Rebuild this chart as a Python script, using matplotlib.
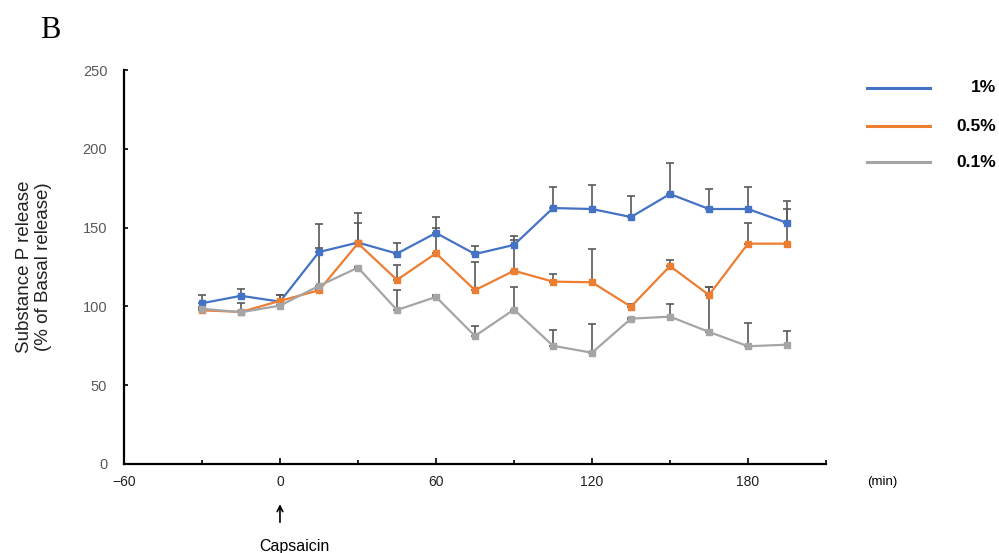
import numpy as np
import matplotlib
matplotlib.use("Agg")
import matplotlib.pyplot as plt
from matplotlib.lines import Line2D

# time points (min) and mean values (% of basal release)
minutes = [-30, -15, 0, 15, 30, 45, 60, 75, 90, 105, 120, 135, 150, 165, 180, 195]

conc_1 = [102, 106.7, 103, 134.5, 140.5, 133.5, 146.6, 133.2, 139, 162.4, 161.8, 156.7, 171.3, 161.8, 161.8, 153]
conc_1_top = [107.2, 110.8, 107.2, 137, 159, 140.4, 150, 138.3, 142, 176, 177, 170, 191, 174.5, 176, 167]

conc_05 = [97.5, 96.5, 103.5, 110.2, 140, 116.8, 133.7, 110.3, 122.6, 115.7, 115.3, 99.8, 125.6, 107.2, 139.8, 139.8]
conc_05_top = [98, 97, 107, 111, 153, 126.3, 157, 128.4, 144.7, 120.6, 136.6, 101.5, 129.4, 112, 152.7, 161.6]

conc_01 = [98.5, 96.3, 100.5, 113, 124.6, 97.7, 106, 81.2, 98, 75, 70.6, 92.2, 93.5, 83.8, 74.7, 75.7]
conc_01_top = [99.5, 102, 101, 152.3, 125, 110.4, 107, 87.6, 112.5, 85, 88.8, 92.5, 101.5, 112.5, 89.5, 84.4]

labels = ["1%", "0.5%", "0.1%"]
colors = ["#4472C4", "#ED7D31", "#A5A5A5"]

series = [(conc_1, conc_1_top), (conc_05, conc_05_top), (conc_01, conc_01_top)]

fig = plt.figure(figsize=(9.99, 5.53), dpi=100)
ax = fig.add_axes([0.1241, 0.161, 0.7027, 0.7124])

# error bars first (only upward), then the lines on top
for vals, top in series:
    v = np.array(vals)
    err = np.array(top) - v
    ax.errorbar(minutes, v, yerr=[np.zeros_like(err), err], fmt="none",
                ecolor="#595959", elinewidth=1.2, capsize=3, capthick=1.2, zorder=2)

for (vals, top), c in zip(series, colors):
    ax.plot(minutes, vals, color=c, lw=1.6, marker="s", markersize=4.5, zorder=3)

ax.set_xlim(-60, 210)
ax.set_ylim(0, 250)
ax.set_xticks([-60, 0, 60, 120, 180])
ax.set_xticklabels(["\u221260", "0", "60", "120", "180"])
ax.set_xticks(np.arange(-30, 211, 60), minor=True)
ax.set_yticks([0, 50, 100, 150, 200, 250])

for s in ["top", "right"]:
    ax.spines[s].set_visible(False)
for s in ["left", "bottom"]:
    ax.spines[s].set_linewidth(1.6)
    ax.spines[s].set_color("black")

ax.tick_params(axis="x", which="major", direction="in", length=4, width=1.2,
               labelsize=10, labelcolor="#222222", pad=8)
ax.tick_params(axis="x", which="minor", direction="in", length=3, width=1.2)
ax.tick_params(axis="y", direction="in", length=3, width=1.2,
               labelsize=10.5, labelcolor="#595959", pad=12)
for t in ax.get_xticklabels() + ax.get_yticklabels():
    t.set_fontfamily("Liberation Sans")

ax.set_ylabel("Substance P release\n(% of Basal release)", fontsize=13.5,
              family="Liberation Sans", color="#222222", labelpad=22, linespacing=1.15)

fig.text(0.04, 0.945, "B", fontsize=22, family="Liberation Serif", va="center")
fig.text(0.868, 0.128, "(min)", fontsize=9.5, family="Liberation Sans", va="center")

# capsaicin arrow under time zero
ax.annotate("", xy=(0, -0.095), xycoords=("data", "axes fraction"),
            xytext=(0, -0.155), textcoords=("data", "axes fraction"),
            arrowprops=dict(arrowstyle="->", color="black", lw=1.2),
            annotation_clip=False)
ax.text(5.5, -0.21, "Capsaicin", transform=ax.get_xaxis_transform(),
        ha="center", va="center", fontsize=11.5, family="Liberation Sans")

# legend drawn by hand: lines on the left, labels right aligned
leg_y = [0.841, 0.772, 0.707]
for c, lab, yy in zip(colors, labels, leg_y):
    fig.add_artist(Line2D([0.868, 0.931], [yy, yy], color=c, lw=2.2,
                          transform=fig.transFigure))
    fig.text(0.997, yy, lab, ha="right", va="center", fontsize=12.5,
             fontweight="bold", family="Liberation Sans")

fig.savefig("out.png", dpi=100)
